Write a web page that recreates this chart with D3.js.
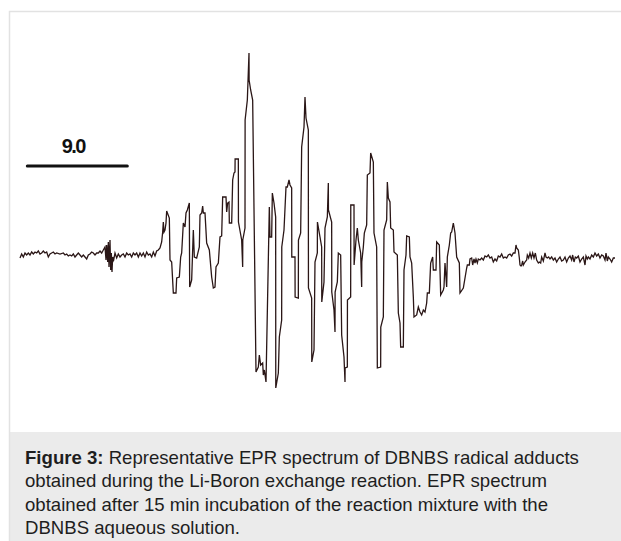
<!DOCTYPE html>
<html>
<head>
<meta charset="utf-8">
<script src="https://cdn.jsdelivr.net/npm/d3@7/dist/d3.min.js"></script>
<style>
  body { margin: 0; background: #fff; }
  svg { display: block; }
</style>
</head>
<body>
<svg id="epr" width="621" height="541"></svg>
<script>
// EPR spectrum: field offset in gauss, signal in arbitrary units
const leftFieldG = [
  0.00, 0.15, 0.30, 0.45, 0.60, 0.75, 0.90, 1.05, 1.20, 1.35,
  1.50, 1.65, 1.80, 1.95, 2.10, 2.25, 2.40, 2.55, 2.70, 2.85,
  3.00, 3.15, 3.30, 3.60, 3.90, 4.05, 4.20, 4.35, 4.50, 4.65,
  4.80, 4.95, 5.10, 5.25, 5.40, 5.55, 5.70, 5.85, 6.00, 6.15,
  6.30, 6.45, 6.60, 6.75, 6.90, 7.05, 7.20, 7.35, 7.50, 7.65,
  7.74, 7.80, 7.89, 7.95, 8.01, 8.10, 8.16, 8.22, 8.28, 8.34,
  8.43, 8.55, 8.70, 8.85, 9.00, 9.15, 9.30, 9.45, 9.60, 9.75,
  9.90, 10.05, 10.20, 10.35, 10.50, 10.65, 10.80, 10.95, 11.10, 11.25,
  11.40, 11.55, 11.70, 11.85, 12.00, 12.15, 12.30
];
const leftSignal = [
  -3, 1, -2, 2, 0, 2, 0, 3, 1, 3,
  2, 4, 1, 2, 4, 2, 3, -2, 1, 2,
  3, 1, 2, 1, 2, 0, 1, -1, 0, -1,
  1, -2, 0, 2, 0, -2, 0, -2, -4, 0,
  1, 3, 2, 0, 2, 2, 4, 2, 5, 8,
  -5, 10, -7, 13, -12, 15, -15, 2, -17, -2,
  -5, 2, -3, 1, -2, 0, 1, -2, 2, 0,
  1, -2, 2, 0, 2, -2, 2, -1, 2, -2,
  3, 0, 1, -2, 3, -1, 4
];

const coreFieldG = [
  12.45, 12.60, 12.75, 12.84, 12.90, 12.96, 13.05, 13.14, 13.20, 13.44,
  13.50, 13.65, 13.80, 14.04, 14.10, 14.34, 14.46, 14.55, 14.70, 14.85,
  14.94, 15.06, 15.24, 15.27, 15.45, 15.60, 15.69, 15.90, 16.14, 16.20,
  16.35, 16.44, 16.50, 16.65, 16.80, 17.04, 17.25, 17.40, 17.55, 17.64,
  17.85, 18.00, 18.15, 18.24, 18.54, 18.60, 18.69, 18.81, 18.84, 19.05,
  19.14, 19.26, 19.35, 19.36, 19.65, 19.66, 19.95, 20.04, 20.05, 20.25,
  20.26, 20.46, 20.61, 20.62, 20.76, 20.94, 21.24, 21.45, 21.54, 21.66,
  21.84, 21.90, 21.99, 22.14, 22.44, 22.50, 22.65, 22.71, 22.86, 23.01,
  23.02, 23.25, 23.34, 23.55, 23.56, 23.76, 23.94, 24.06, 24.21, 24.30,
  24.45, 24.46, 24.75, 24.76, 25.05, 25.06, 25.26, 25.35, 25.56, 25.65,
  25.74, 25.95, 25.96, 26.25, 26.26, 26.46, 26.55, 26.76, 26.77, 27.00,
  27.15, 27.16, 27.36, 27.45, 27.66, 27.75, 27.76, 28.05, 28.06, 28.26,
  28.35, 28.36, 28.56, 28.65, 28.86, 28.95, 29.16, 29.25, 29.26, 29.46,
  29.47, 29.76, 29.77, 30.06, 30.07, 30.24, 30.36, 30.45, 30.66, 30.75,
  30.76, 30.90, 30.99, 31.20, 31.26, 31.50, 31.56, 31.80, 31.86, 32.10,
  32.16, 32.46, 32.47, 32.70, 32.76, 33.00, 33.06, 33.15, 33.30, 33.36,
  33.60, 33.66, 33.96, 34.05, 34.20, 34.26, 34.50, 34.56, 34.74, 34.80,
  35.04, 35.10, 35.25, 35.40, 35.46, 35.70, 35.85, 36.00, 36.15, 36.30,
  36.45, 36.60, 36.66, 36.84, 36.96, 37.14, 37.20, 37.44, 37.50, 37.74,
  37.86, 38.10, 38.16, 38.25, 38.40, 38.46, 38.64, 38.76, 38.85, 39.00,
  39.15, 39.30, 39.54, 39.60, 39.90, 40.20, 40.26, 40.44, 40.50
];
const coreSignal = [
  5, 7, 13, 23, 33, 23, 25, 32, 44, 37,
  -5, -7, -38, -38, -23, -22, -2, 2, 32, 28,
  42, 45, 52, -32, -25, 25, -2, -3, 8, 40,
  42, 49, 42, 42, 12, 5, -22, -33, -32, -12,
  -8, 18, 19, 58, 58, 43, 52, 53, 32, 32,
  75, 82, 83, 96, 96, 33, 15, -12, 15, 27,
  135, 155, 202, 175, 165, 155, -117, -112, -100, -110,
  -108, -120, -115, -127, 48, 18, 18, 62, 52, 38,
  -133, -118, -82, -65, 8, 25, 68, 68, 75, 70,
  67, -2, -2, -42, -43, 15, 22, 108, 128, 158,
  137, 125, -33, -43, -107, -95, -7, 2, 33, 18,
  8, -47, -27, 27, 38, 72, 45, 33, -37, -55,
  -77, -37, -27, 2, 0, -80, -102, -127, -113, -112,
  -45, -42, 50, 50, -10, 15, 27, 15, 2, -32,
  -7, 8, 22, 30, 80, 82, 102, 93, 22, 8,
  -113, -112, -72, -62, 25, 35, 73, 57, 53, 27,
  25, 3, 0, -58, -68, -92, -92, -15, 0, 19,
  18, -2, -8, -42, -62, -60, -52, -57, -60, -55,
  -57, -48, -38, -38, -8, -2, -15, -15, 13, 10,
  -40, -35, -32, -8, -32, -2, 10, 22, 23, 32,
  22, -2, -8, -38, -33, -13, -10, -10, -4
];

const rightFieldG = [
  40.65, 40.74, 40.86, 40.95, 41.04, 41.16, 41.25, 41.40, 41.55, 41.70,
  41.85, 42.00, 42.15, 42.30, 42.45, 42.60, 42.75, 42.90, 43.05, 43.20,
  43.35, 43.50, 43.65, 43.80, 43.95, 44.10, 44.25, 44.40, 44.55, 44.64,
  44.70, 44.85, 44.94, 45.00, 45.09, 45.15, 45.24, 45.30, 45.45, 45.60,
  45.66, 45.78, 45.90, 46.02, 46.14, 46.26, 46.38, 46.50, 46.65, 46.74,
  46.86, 46.95, 47.10, 47.25, 47.34, 47.46, 47.58, 47.70, 47.85, 48.00,
  48.15, 48.30, 48.45, 48.60, 48.75, 48.90, 49.05, 49.20, 49.35, 49.50,
  49.65, 49.74, 49.86, 49.98, 50.10, 50.25, 50.40, 50.55, 50.70, 50.85,
  50.94, 51.06, 51.15, 51.30, 51.45, 51.60, 51.75, 51.90, 52.05, 52.20,
  52.35, 52.50, 52.65, 52.74, 52.86, 52.95, 53.10, 53.25, 53.40, 53.55
];
const rightSignal = [
  -3, -10, -4, -8, -4, -8, -4, -5, -3, -5,
  -1, -2, 0, -3, -2, -7, -4, -6, -1, -2,
  1, -3, -2, -3, 0, 1, -1, 2, 2, 10,
  7, 5, -3, -10, -11, -10, -6, -10, -7, -5,
  0, -3, 2, -3, 2, -3, 2, -5, -8, -7,
  -8, -2, -6, 2, -2, -3, -2, -4, -2, -5,
  -3, -7, -4, -2, -6, -5, -2, -7, -3, -1,
  -5, 0, -7, -2, -3, -1, -7, -4, -2, -10,
  -1, -4, -2, -4, 0, -2, 2, -1, 1, -3,
  0, -1, -5, 2, -6, -2, -4, -7, -3, -3
];

const scaleBarG = 9.0;
const scaleBarLabel = '9.0';
const captionLabel = 'Figure 3:';
const captionLines = [
  ' Representative EPR spectrum of DBNBS radical adducts',
  'obtained during the Li-Boron exchange reaction. EPR spectrum',
  'obtained after 15 min incubation of the reaction mixture with the',
  'DBNBS aqueous solution.'
];

const width = 621;
const height = 541;
const svg = d3.select('#epr');

const spectrum = [
  ...leftFieldG.map((g, i) => [g, leftSignal[i]]),
  ...coreFieldG.map((g, i) => [g, coreSignal[i]]),
  ...rightFieldG.map((g, i) => [g, rightSignal[i]])
];

const x = d3.scaleLinear().domain([0, 54]).range([20, 620]);
const y = d3.scaleLinear().domain([-140, 210]).range([395, 45]);

// frame: light rule on top and left, grey caption panel at the bottom
svg.append('rect')
  .attr('x', 9).attr('y', 432)
  .attr('width', width - 9).attr('height', height - 432)
  .attr('fill', '#ebebeb');
svg.append('path')
  .attr('d', `M9.5,${height} V11.5 H${width}`)
  .attr('fill', 'none')
  .attr('stroke', '#e2e2e2')
  .attr('stroke-width', 1.5);

// spectrum trace
const line = d3.line()
  .x(d => x(d[0]))
  .y(d => y(d[1]));

svg.append('path')
  .datum(spectrum)
  .attr('d', line)
  .attr('fill', 'none')
  .attr('stroke', '#2a1616')
  .attr('stroke-width', 1.3)
  .attr('stroke-linejoin', 'miter');

// scale bar (9.0 G)
const barStart = 0.66;
svg.append('line')
  .attr('x1', x(barStart)).attr('x2', x(barStart + scaleBarG))
  .attr('y1', 166).attr('y2', 166)
  .attr('stroke', '#111')
  .attr('stroke-width', 3)
  .attr('stroke-linecap', 'round');
svg.append('text')
  .attr('x', x(barStart + scaleBarG * 0.46))
  .attr('y', 153)
  .attr('text-anchor', 'middle')
  .attr('font-family', 'Liberation Sans, Arial, sans-serif')
  .attr('font-weight', 'bold')
  .attr('font-size', 20)
  .attr('letter-spacing', -1.5)
  .attr('fill', '#111')
  .text(scaleBarLabel);

// caption
const caption = svg.append('g')
  .attr('font-family', 'Liberation Sans, Arial, sans-serif')
  .attr('font-size', 18.6)
  .attr('fill', '#1e1e1e');

captionLines.forEach((txt, i) => {
  const t = caption.append('text')
    .attr('x', 25)
    .attr('y', 463.5 + i * 23.5);
  if (i === 0) {
    t.append('tspan').attr('font-weight', 'bold').text(captionLabel);
  }
  t.append('tspan').text(txt);
});
</script>
</body>
</html>
